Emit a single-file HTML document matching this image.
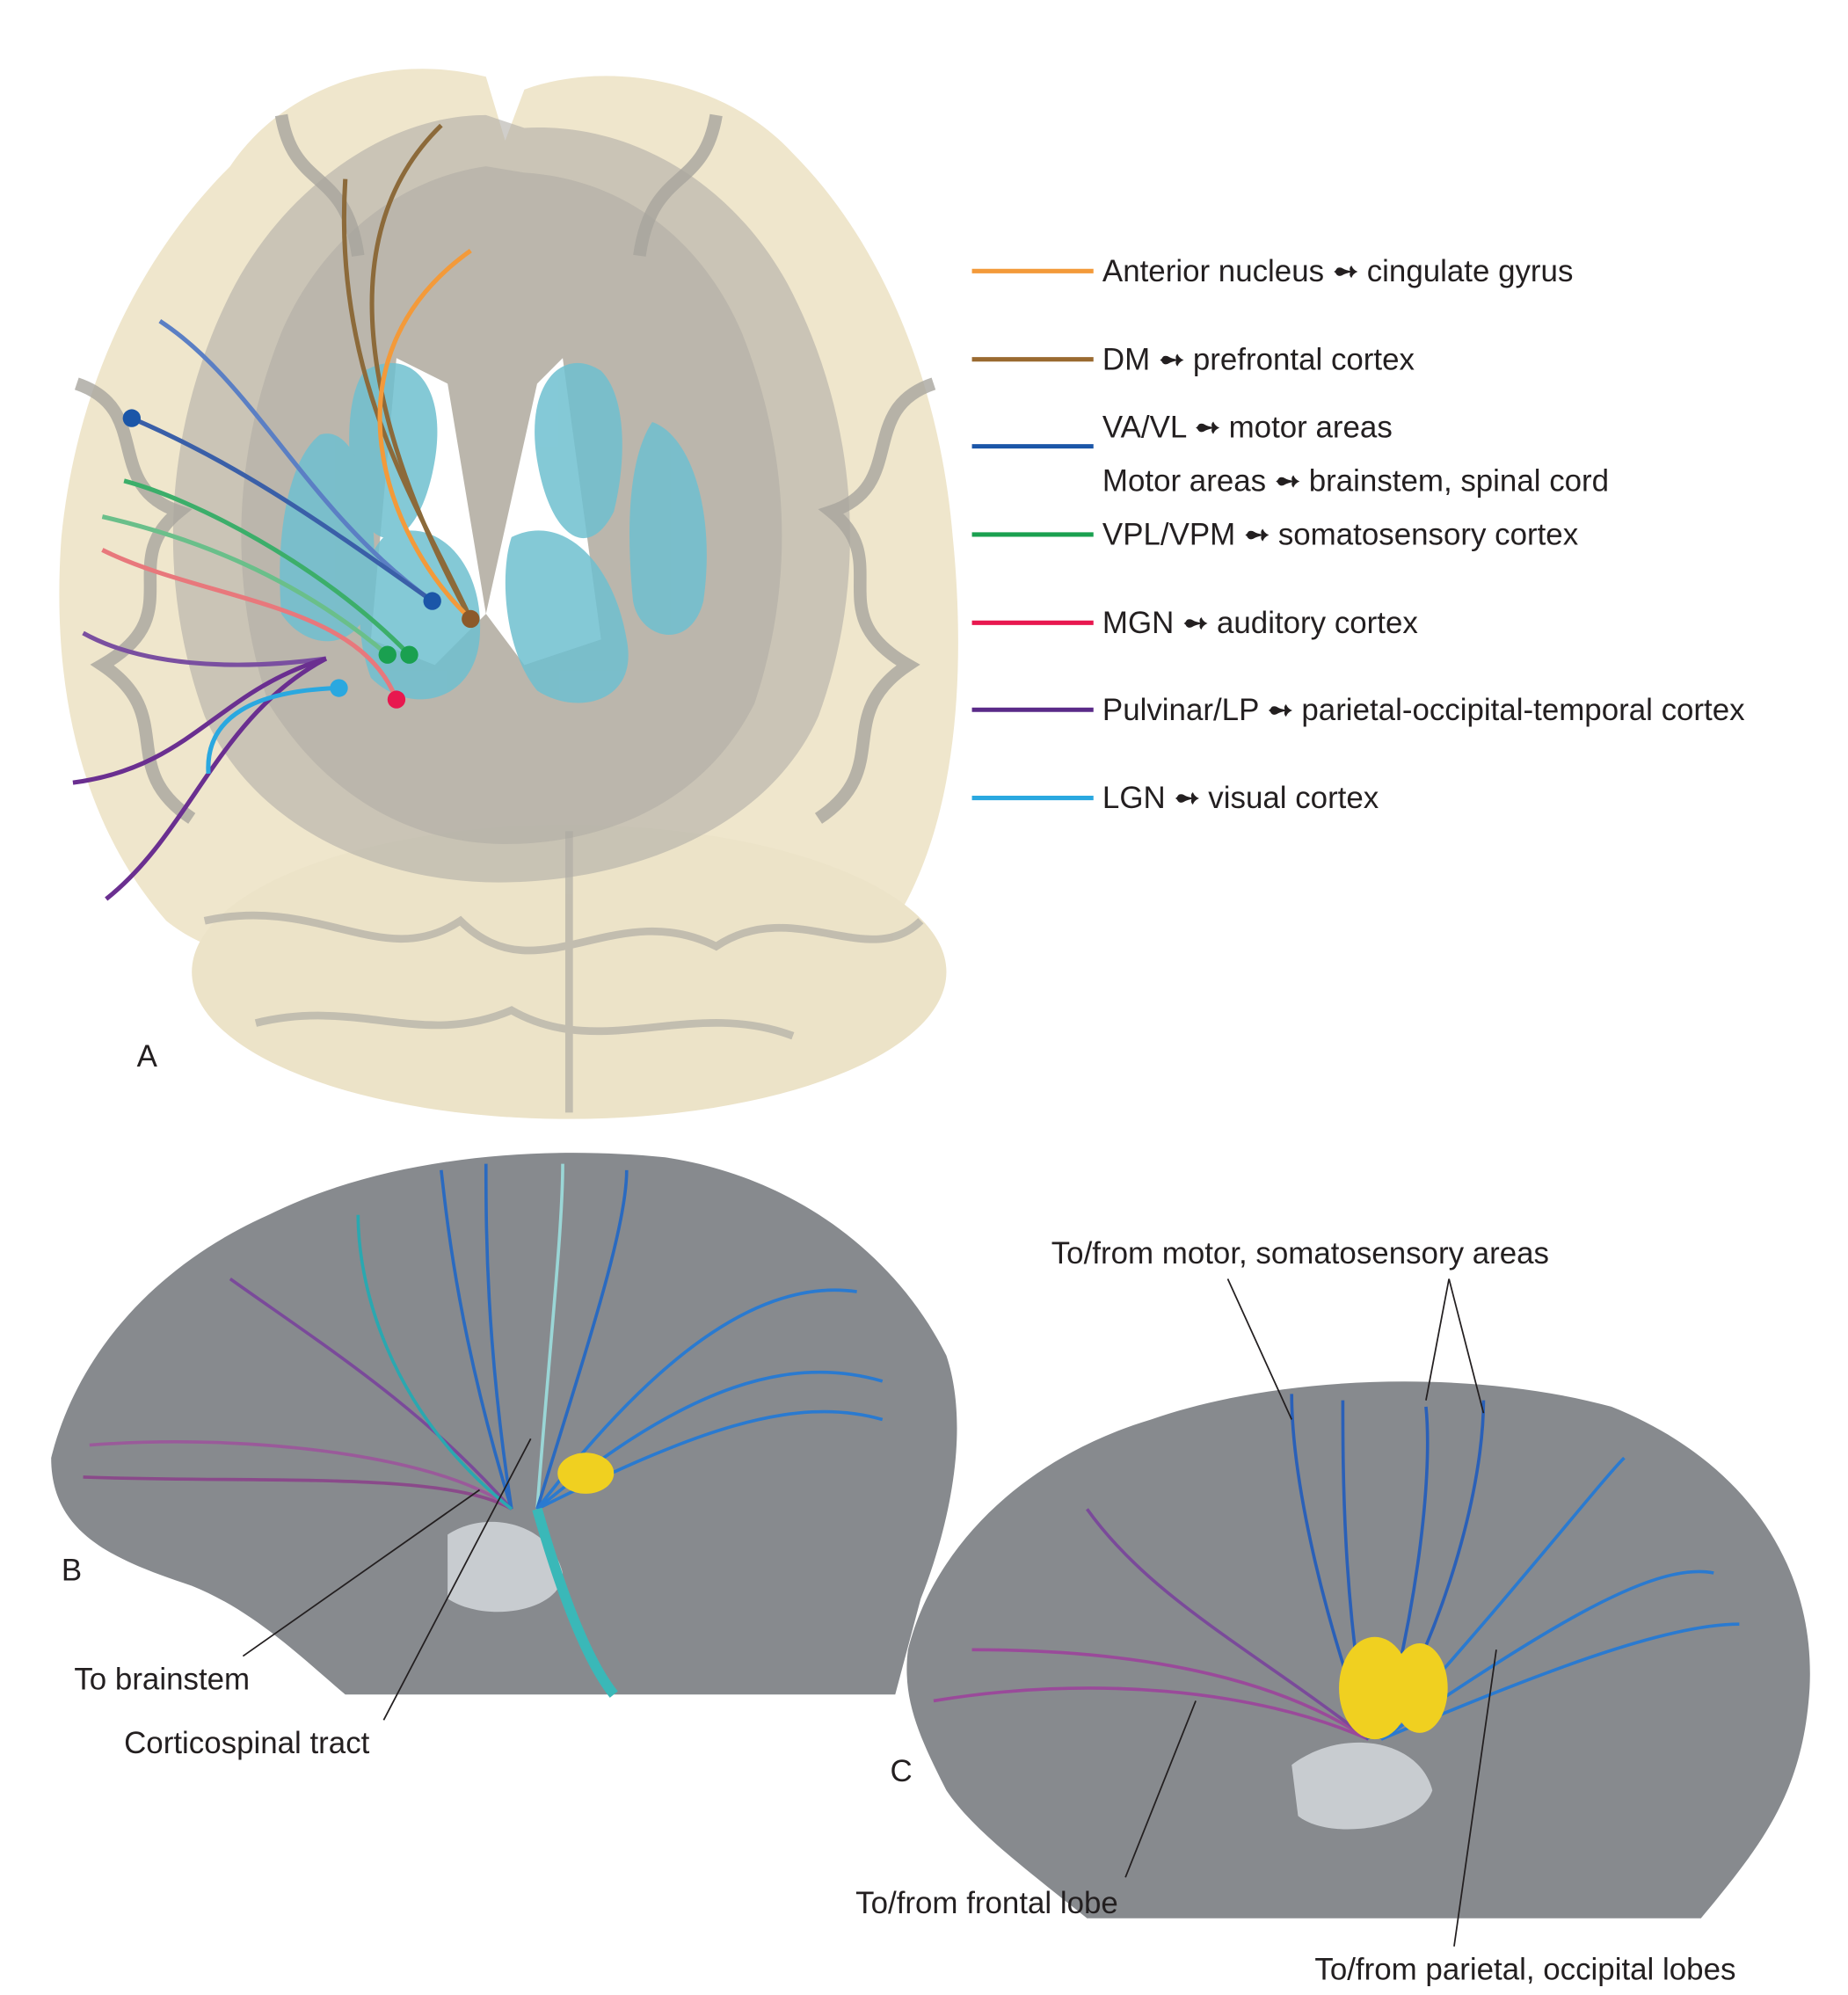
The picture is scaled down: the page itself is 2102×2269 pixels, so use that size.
<!DOCTYPE html>
<html><head><meta charset="utf-8"><style>
html,body{margin:0;padding:0;background:#fff}
svg{display:block}
text{font-family:"Liberation Sans",sans-serif;fill:#231f20}
</style></head><body>
<svg width="2102" height="2269" viewBox="0 0 1445 1560" preserveAspectRatio="none" xmlns="http://www.w3.org/2000/svg">
<!-- Panel A brain -->
<path d="M380,60 C300,40 220,70 180,130 C110,200 60,300 48,420 C40,530 60,640 130,720 C180,760 230,745 270,730 L520,730 C580,745 650,760 700,720 C750,640 755,520 745,420 C735,300 690,190 620,120 C570,65 480,45 410,70 L395,110 Z" fill="#efe6cc"/>
<ellipse cx="445" cy="760" rx="295" ry="115" fill="#ece3c8"/>
<g fill="none" stroke="#b8b4aa" stroke-width="6" opacity="0.8">
<path d="M160,720 C250,700 300,760 360,720 C420,780 480,700 560,740 C620,700 680,760 720,720"/>
<path d="M200,800 C280,780 330,820 400,790 C470,830 540,780 620,810"/>
<path d="M445,650 L445,870"/>
</g>
<path d="M380,90 C300,90 220,150 180,230 C130,330 120,450 160,560 C200,650 300,690 390,690 C490,690 600,650 640,560 C680,450 670,330 620,230 C580,150 500,95 410,100 Z" fill="#b0ada6" opacity="0.6"/>
<path d="M380,130 C310,140 250,190 220,260 C180,360 180,460 210,550 C260,630 330,660 395,660 C470,660 550,630 590,550 C620,460 620,360 580,260 C550,190 490,140 410,135 Z" fill="#a9a69f" opacity="0.45"/>
<g fill="none" stroke="#a8a59e" stroke-width="10" opacity="0.8">
<path d="M60,300 C120,320 80,380 140,400 C90,440 150,480 80,520 C140,560 90,600 150,640"/>
<path d="M730,300 C670,320 710,380 650,400 C700,440 640,480 710,520 C650,560 700,600 640,640"/>
<path d="M220,90 C230,150 270,130 280,200"/>
<path d="M560,90 C550,150 510,130 500,200"/>
</g>
<path d="M310,280 L290,500 L340,520 L380,480 L350,300 Z" fill="#fff"/>
<path d="M440,280 L470,500 L410,520 L380,480 L420,300 Z" fill="#fff"/>
<g fill="#6fc0d0" opacity="0.85">
<path d="M285,290 C320,270 350,300 340,360 C330,420 300,440 280,400 C270,360 270,310 285,290Z"/>
<path d="M470,290 C440,270 410,300 420,360 C430,420 460,440 480,400 C490,360 490,310 470,290Z"/>
<path d="M250,340 C280,330 300,400 290,470 C280,510 240,510 220,480 C215,420 225,360 250,340Z"/>
<path d="M510,330 C540,340 560,400 550,470 C540,510 500,500 495,470 C490,420 490,360 510,330Z"/>
<path d="M300,420 C340,400 380,440 375,500 C370,550 320,560 290,530 C275,490 280,440 300,420Z"/>
<path d="M400,420 C440,400 480,440 490,500 C500,550 450,560 420,540 C395,510 390,450 400,420Z"/>
</g>
<!-- fibers A -->
<g fill="none" stroke-width="3.5">
<path d="M368,484 C330,400 260,300 270,140" stroke="#8c6a3a"/>
<path d="M368,484 C310,380 240,200 345,98" stroke="#8c6a3a"/>
<path d="M368,484 C300,420 250,280 368,196" stroke="#f39a3a"/>
<path d="M338,470 C240,400 200,300 125,251" stroke="#5b7fc4"/>
<path d="M338,470 C240,400 180,360 103,327" stroke="#3a5fa8"/>
<path d="M320,512 C250,440 150,390 97,376" stroke="#3cae6a"/>
<path d="M303,512 C230,450 150,420 80,404" stroke="#6abf8a"/>
<path d="M310,547 C280,470 160,470 80,430" stroke="#e8787c"/>
<path d="M255,515 C180,525 110,520 65,495" stroke="#7a4fa0"/>
<path d="M255,515 C170,540 150,600 57,612" stroke="#6a2f90"/>
<path d="M255,515 C170,560 150,650 83,703" stroke="#6a2f90"/>
<path d="M265,538 C200,540 160,560 163,605" stroke="#2aa8e0"/>
</g>
<g>
<circle cx="368" cy="484" r="7" fill="#8c5a2a"/><circle cx="338" cy="470" r="7" fill="#1b56a8"/>
<circle cx="320" cy="512" r="7" fill="#1aa050"/><circle cx="303" cy="512" r="7" fill="#1aa050"/>
<circle cx="310" cy="547" r="7" fill="#e8184f"/><circle cx="265" cy="538" r="7" fill="#2aa8e0"/>
<circle cx="103" cy="327" r="7" fill="#1b56a8"/>
</g>
<text x="107" y="834" font-size="24">A</text>
<!-- Legend -->
<g stroke-width="3.5">
<line x1="760" y1="212" x2="855" y2="212" stroke="#f39a3a"/>
<line x1="760" y1="281" x2="855" y2="281" stroke="#9a6a30"/>
<line x1="760" y1="349" x2="855" y2="349" stroke="#1b56a8"/>
<line x1="760" y1="418" x2="855" y2="418" stroke="#1aa050"/>
<line x1="760" y1="487" x2="855" y2="487" stroke="#e8184f"/>
<line x1="760" y1="555" x2="855" y2="555" stroke="#5a2a88"/>
<line x1="760" y1="624" x2="855" y2="624" stroke="#2aa8e0"/>
</g>
<g font-size="24">
<text x="862" y="220">Anterior nucleus <tspan font-weight="bold">➻</tspan> cingulate gyrus</text>
<text x="862" y="289">DM <tspan font-weight="bold">➻</tspan> prefrontal cortex</text>
<text x="862" y="342">VA/VL <tspan font-weight="bold">➻</tspan> motor areas</text>
<text x="862" y="384">Motor areas <tspan font-weight="bold">➻</tspan> brainstem, spinal cord</text>
<text x="862" y="426">VPL/VPM <tspan font-weight="bold">➻</tspan> somatosensory cortex</text>
<text x="862" y="495">MGN <tspan font-weight="bold">➻</tspan> auditory cortex</text>
<text x="862" y="563">Pulvinar/LP <tspan font-weight="bold">➻</tspan> parietal-occipital-temporal cortex</text>
<text x="862" y="632">LGN <tspan font-weight="bold">➻</tspan> visual cortex</text>
</g>
<!-- Panel B -->
<path d="M40,1140 C60,1060 120,990 210,950 C300,905 420,895 520,905 C620,920 700,980 740,1060 C760,1120 740,1200 720,1250 L700,1325 L270,1325 C240,1300 200,1260 150,1240 C90,1220 40,1200 40,1140Z" fill="#878a8e"/>
<path d="M350,1200 C380,1180 430,1190 440,1230 C440,1260 380,1270 350,1250Z" fill="#c8ccd0"/>
<g fill="none" stroke-width="2.5">
<path d="M400,1180 C350,1150 200,1160 65,1155" stroke="#8a4a8a"/>
<path d="M400,1180 C350,1140 200,1120 70,1130" stroke="#9a5a9a"/>
<path d="M400,1180 C330,1100 250,1050 180,1000" stroke="#7a4a9a"/>
<path d="M400,1180 C360,1050 350,960 345,915" stroke="#2a6ac0"/>
<path d="M400,1180 C380,1050 380,960 380,910" stroke="#2a6ac0"/>
<path d="M420,1180 C430,1050 440,960 440,910" stroke="#9ad6d6"/>
<path d="M420,1180 C460,1050 490,960 490,915" stroke="#2a6ac0"/>
<path d="M420,1180 C520,1050 600,1000 670,1010" stroke="#2a7ad0"/>
<path d="M420,1180 C540,1080 620,1060 690,1080" stroke="#2a7ad0"/>
<path d="M420,1180 C540,1120 620,1090 690,1110" stroke="#2a7ad0"/>
<path d="M400,1180 C300,1100 280,1000 280,950" stroke="#2aa8b0"/>
<path d="M420,1180 C440,1250 460,1300 480,1325" stroke="#3ab8b8" stroke-width="8"/>
</g>
<ellipse cx="458" cy="1152" rx="22" ry="16" fill="#f0d020"/>
<g stroke="#231f20" stroke-width="1.2"><line x1="190" y1="1295" x2="375" y2="1165"/><line x1="300" y1="1345" x2="415" y2="1125"/></g>
<text x="48" y="1236" font-size="24">B</text>
<text x="58" y="1321" font-size="24">To brainstem</text>
<text x="97" y="1371" font-size="24">Corticospinal tract</text>
<!-- Panel C -->
<path d="M710,1290 C730,1210 800,1140 900,1110 C1000,1075 1150,1070 1260,1100 C1360,1140 1420,1220 1415,1320 C1410,1400 1380,1440 1330,1500 L850,1500 C800,1460 760,1430 740,1400 C720,1360 705,1330 710,1290Z" fill="#878a8e"/>
<path d="M1010,1380 C1050,1350 1110,1360 1120,1400 C1110,1430 1040,1440 1015,1420Z" fill="#c8ccd0"/>
<g fill="none" stroke-width="2.5">
<path d="M1070,1360 C980,1320 850,1310 730,1330" stroke="#9a4a9a"/>
<path d="M1070,1360 C980,1300 850,1290 760,1290" stroke="#9a4a9a"/>
<path d="M1070,1360 C980,1290 900,1250 850,1180" stroke="#7a4a9a"/>
<path d="M1070,1360 C1030,1250 1010,1150 1010,1090" stroke="#2a60b8"/>
<path d="M1070,1360 C1050,1250 1050,1150 1050,1095" stroke="#2a60b8"/>
<path d="M1080,1360 C1110,1250 1120,1150 1115,1100" stroke="#2a60b8"/>
<path d="M1080,1360 C1140,1250 1160,1150 1160,1095" stroke="#2a60b8"/>
<path d="M1080,1360 C1180,1250 1250,1160 1270,1140" stroke="#2a7ad0"/>
<path d="M1080,1360 C1200,1280 1290,1220 1340,1230" stroke="#2a7ad0"/>
<path d="M1080,1360 C1200,1310 1300,1270 1360,1270" stroke="#2a7ad0"/>
</g>
<ellipse cx="1075" cy="1320" rx="28" ry="40" fill="#f0d020"/>
<ellipse cx="1110" cy="1320" rx="22" ry="35" fill="#f0d020"/>
<g stroke="#231f20" stroke-width="1.2">
<line x1="960" y1="1000" x2="1010" y2="1110"/><line x1="1133" y1="1000" x2="1115" y2="1095"/><line x1="1133" y1="1000" x2="1160" y2="1105"/>
<line x1="880" y1="1468" x2="935" y2="1330"/><line x1="1137" y1="1522" x2="1170" y2="1290"/>
</g>
<text x="696" y="1393" font-size="24">C</text>
<text x="822" y="988" font-size="24">To/from motor, somatosensory areas</text>
<text x="669" y="1496" font-size="24">To/from frontal lobe</text>
<text x="1028" y="1548" font-size="24">To/from parietal, occipital lobes</text>
</svg>
</body></html>
